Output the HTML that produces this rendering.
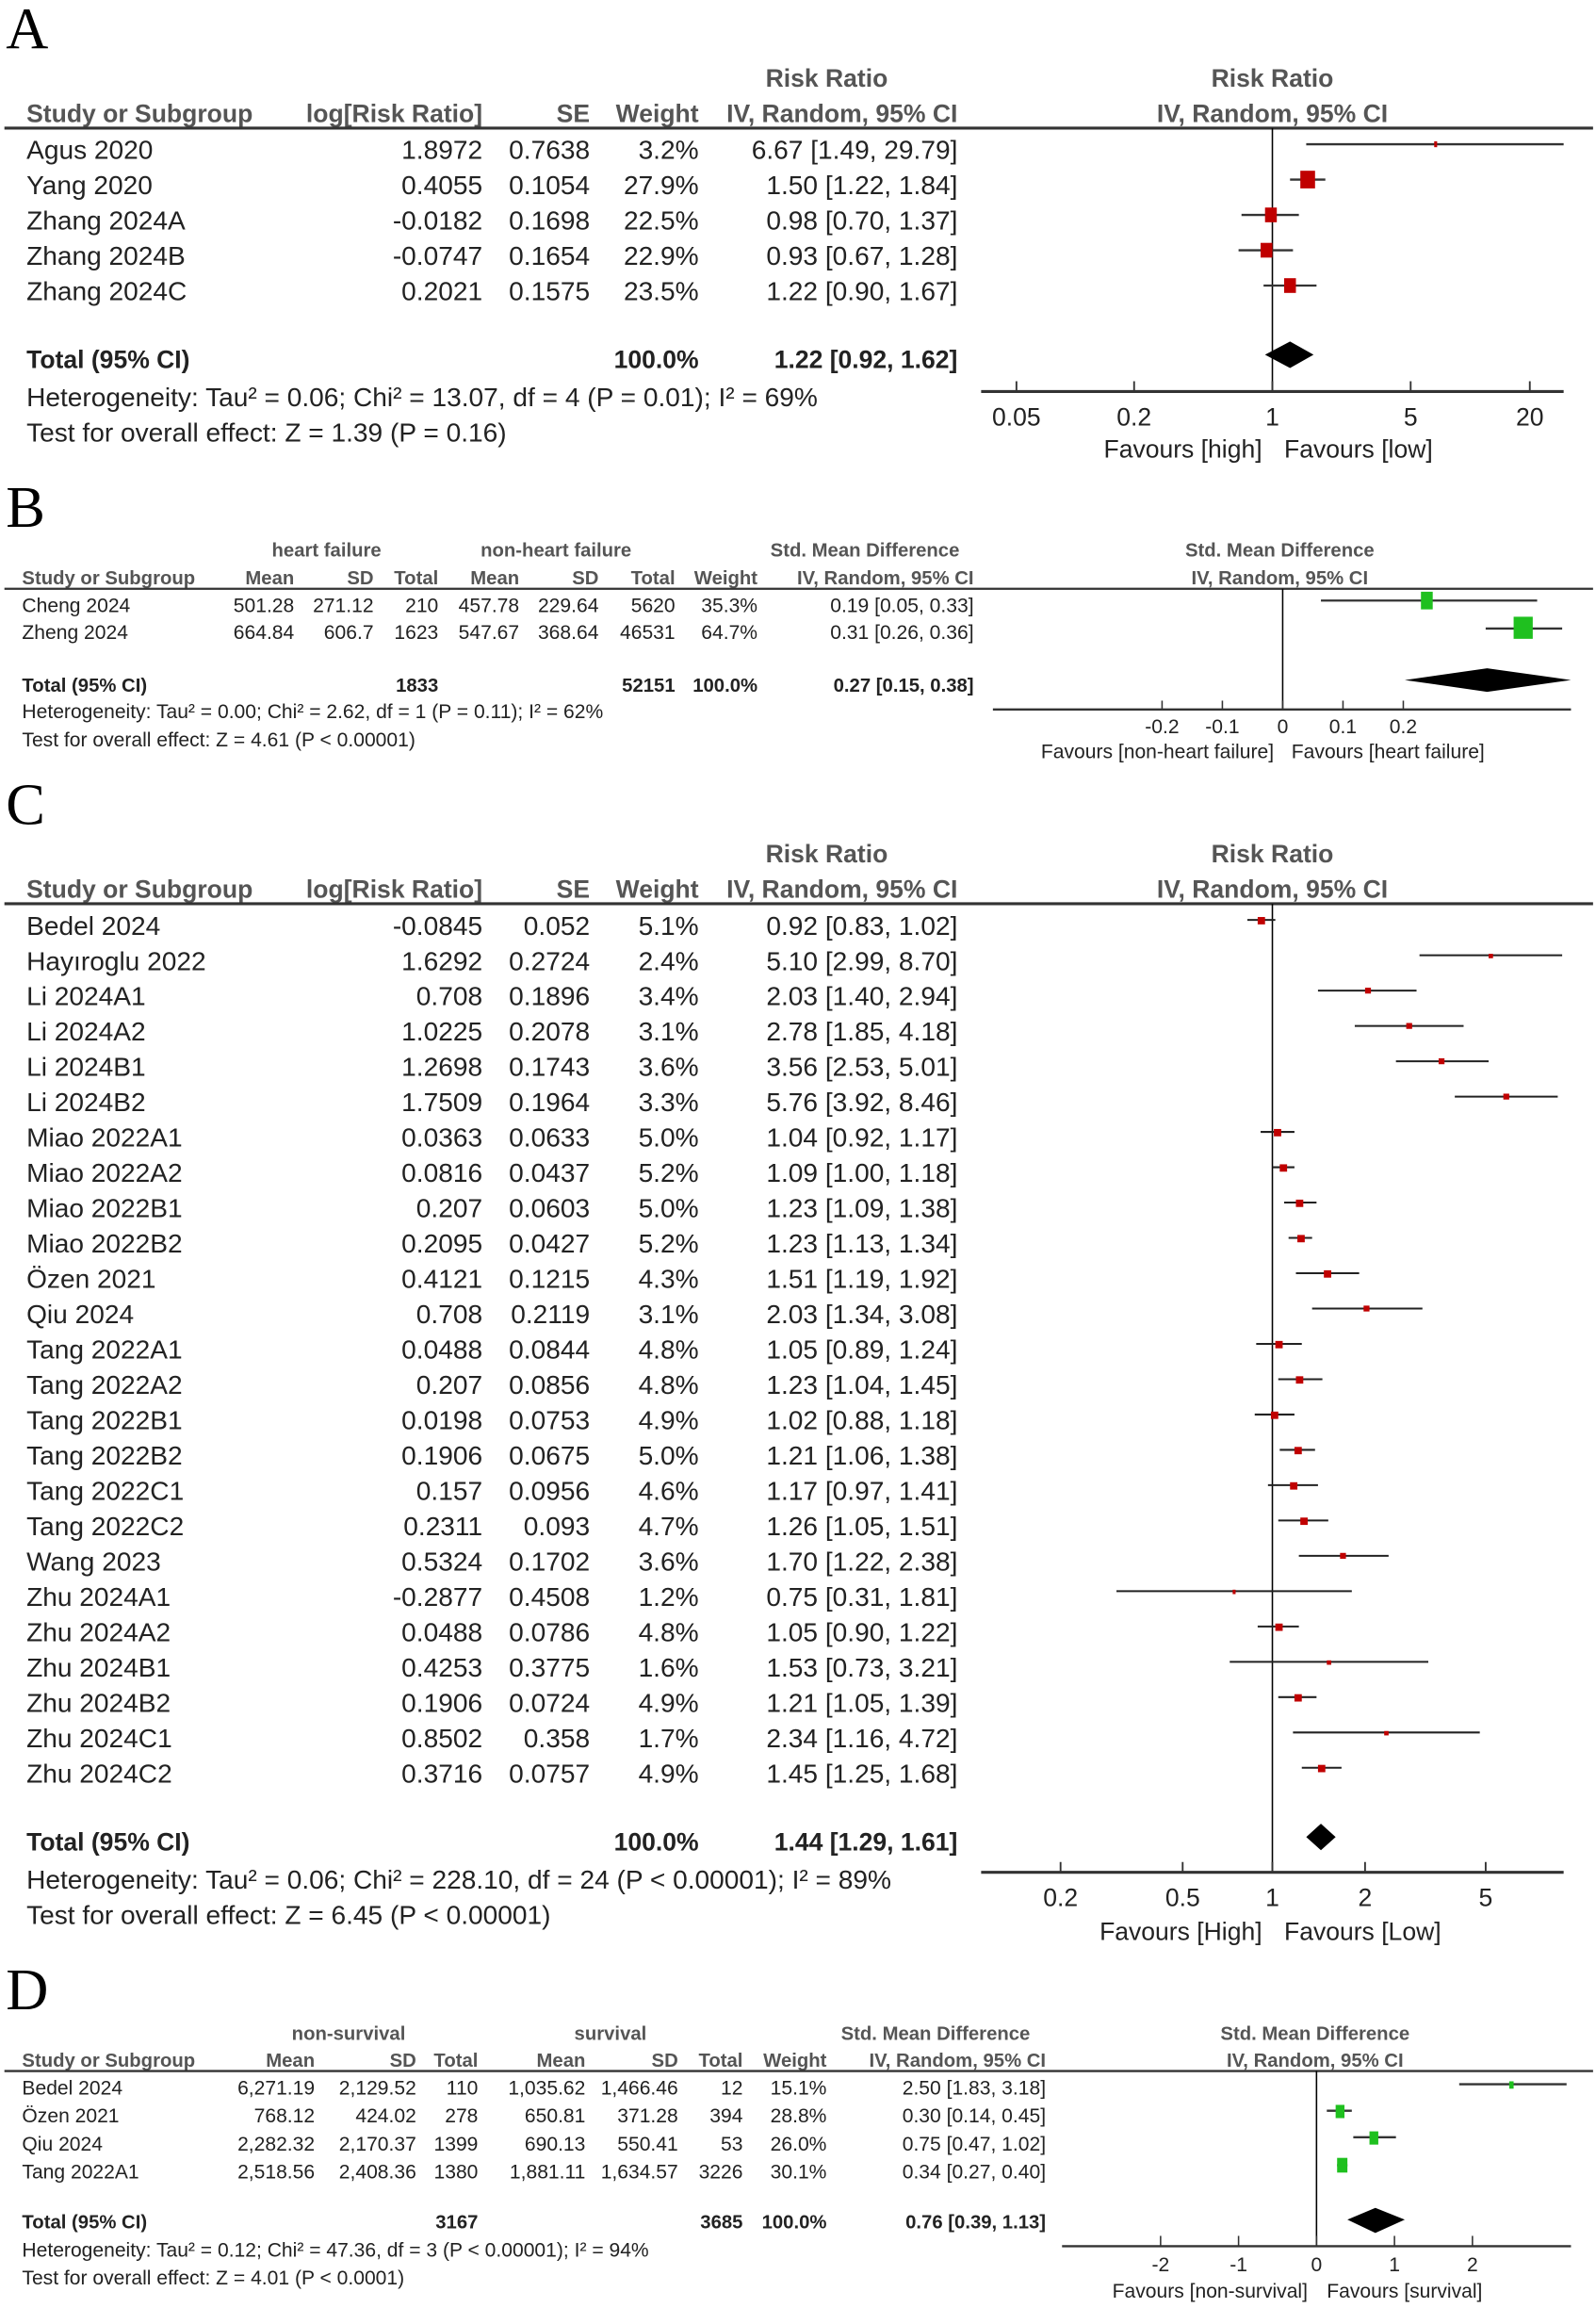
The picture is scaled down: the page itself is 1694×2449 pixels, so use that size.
<!DOCTYPE html>
<html><head><meta charset="utf-8"><style>
html,body{margin:0;padding:0;background:#fff;}
svg{display:block;}
text{font-family:"Liberation Sans",Arial,sans-serif;fill:#222;}
.a{font-size:18px;}
.a .b{font-size:17px;}
.a.g text, .a .g{font-size:17px;}
.s{font-size:13.5px;}
.s .b{font-size:13px;}
.b{font-weight:bold;}
.r{text-anchor:end;}
.m{text-anchor:middle;}
.lab{font-family:"Liberation Serif",serif;font-size:40px;fill:#000;}
.g{fill:#555;}
</style></head><body>
<svg width="1694" height="2449" viewBox="0 0 1085 1568" preserveAspectRatio="none" xmlns="http://www.w3.org/2000/svg">
<rect width="1085" height="1568" fill="#fff"/>
<!-- ===== A ===== -->
<text class="lab" x="4" y="33">A</text>
<g class="a">
<text class="m b g" x="562" y="59">Risk Ratio</text>
<text class="m b g" x="865" y="59">Risk Ratio</text>
<text class="b g" x="18" y="83">Study or Subgroup</text>
<text class="r b g" x="328" y="83">log[Risk Ratio]</text>
<text class="r b g" x="401" y="83">SE</text>
<text class="r b g" x="475" y="83">Weight</text>
<text class="r b g" x="651" y="83">IV, Random, 95% CI</text>
<text class="m b g" x="865" y="83">IV, Random, 95% CI</text>
</g>
<line x1="3" y1="87" x2="1083" y2="87" stroke="#333" stroke-width="2"/>
<g class="a">
<text x="18" y="108">Agus 2020</text><text class="r" x="328" y="108">1.8972</text><text class="r" x="401" y="108">0.7638</text><text class="r" x="475" y="108">3.2%</text><text class="r" x="651" y="108">6.67 [1.49, 29.79]</text>
<text x="18" y="132">Yang 2020</text><text class="r" x="328" y="132">0.4055</text><text class="r" x="401" y="132">0.1054</text><text class="r" x="475" y="132">27.9%</text><text class="r" x="651" y="132">1.50 [1.22, 1.84]</text>
<text x="18" y="156">Zhang 2024A</text><text class="r" x="328" y="156">-0.0182</text><text class="r" x="401" y="156">0.1698</text><text class="r" x="475" y="156">22.5%</text><text class="r" x="651" y="156">0.98 [0.70, 1.37]</text>
<text x="18" y="180">Zhang 2024B</text><text class="r" x="328" y="180">-0.0747</text><text class="r" x="401" y="180">0.1654</text><text class="r" x="475" y="180">22.9%</text><text class="r" x="651" y="180">0.93 [0.67, 1.28]</text>
<text x="18" y="204">Zhang 2024C</text><text class="r" x="328" y="204">0.2021</text><text class="r" x="401" y="204">0.1575</text><text class="r" x="475" y="204">23.5%</text><text class="r" x="651" y="204">1.22 [0.90, 1.67]</text>
<text class="b" x="18" y="250">Total (95% CI)</text><text class="r b" x="475" y="250">100.0%</text><text class="r b" x="651" y="250">1.22 [0.92, 1.62]</text>
<text x="18" y="276">Heterogeneity: Tau² = 0.06; Chi² = 13.07, df = 4 (P = 0.01); I² = 69%</text>
<text x="18" y="300">Test for overall effect: Z = 1.39 (P = 0.16)</text>
</g>
<line x1="865" y1="87" x2="865" y2="266" stroke="#000" stroke-width="1"/>
<g stroke="#333" stroke-width="1.5">
<line x1="888" y1="98" x2="1063" y2="98"/>
<line x1="877" y1="122" x2="901" y2="122"/>
<line x1="844" y1="146" x2="883" y2="146"/>
<line x1="842" y1="170" x2="879" y2="170"/>
<line x1="859" y1="194" x2="895" y2="194"/>
</g>
<g fill="#c00000">
<rect x="975" y="96" width="2" height="4"/>
<rect x="884" y="116" width="10" height="12"/>
<rect x="860" y="141" width="8" height="10"/>
<rect x="857" y="165" width="8" height="10"/>
<rect x="873" y="189" width="8" height="10"/>
</g>
<polygon points="860,241 877,232 893,241 877,250" fill="#000"/>
<line x1="667" y1="266" x2="1063" y2="266" stroke="#333" stroke-width="2"/>
<g stroke="#333" stroke-width="1.2"><line x1="691" y1="259" x2="691" y2="266"/><line x1="771" y1="259" x2="771" y2="266"/><line x1="865" y1="259" x2="865" y2="266"/><line x1="959" y1="259" x2="959" y2="266"/><line x1="1040" y1="259" x2="1040" y2="266"/></g>
<g class="a g">
<text class="m" x="691" y="289">0.05</text><text class="m" x="771" y="289">0.2</text><text class="m" x="865" y="289">1</text><text class="m" x="959" y="289">5</text><text class="m" x="1040" y="289">20</text>
<text class="r" x="858" y="311">Favours [high]</text><text x="873" y="311">Favours [low]</text>
</g>

<!-- ===== B ===== -->
<text class="lab" x="4" y="358">B</text>
<g class="s">
<text class="m b g" x="222" y="378">heart failure</text>
<text class="m b g" x="378" y="378">non-heart failure</text>
<text class="m b g" x="588" y="378">Std. Mean Difference</text>
<text class="m b g" x="870" y="378">Std. Mean Difference</text>
<text class="b g" x="15" y="397">Study or Subgroup</text>
<text class="r b g" x="200" y="397">Mean</text><text class="r b g" x="254" y="397">SD</text><text class="r b g" x="298" y="397">Total</text>
<text class="r b g" x="353" y="397">Mean</text><text class="r b g" x="407" y="397">SD</text><text class="r b g" x="459" y="397">Total</text>
<text class="r b g" x="515" y="397">Weight</text><text class="r b g" x="662" y="397">IV, Random, 95% CI</text>
<text class="m b g" x="870" y="397">IV, Random, 95% CI</text>
</g>
<line x1="3" y1="400" x2="1083" y2="400" stroke="#333" stroke-width="1.5"/>
<g class="s">
<text x="15" y="416">Cheng 2024</text><text class="r" x="200" y="416">501.28</text><text class="r" x="254" y="416">271.12</text><text class="r" x="298" y="416">210</text><text class="r" x="353" y="416">457.78</text><text class="r" x="407" y="416">229.64</text><text class="r" x="459" y="416">5620</text><text class="r" x="515" y="416">35.3%</text><text class="r" x="662" y="416">0.19 [0.05, 0.33]</text>
<text x="15" y="434">Zheng 2024</text><text class="r" x="200" y="434">664.84</text><text class="r" x="254" y="434">606.7</text><text class="r" x="298" y="434">1623</text><text class="r" x="353" y="434">547.67</text><text class="r" x="407" y="434">368.64</text><text class="r" x="459" y="434">46531</text><text class="r" x="515" y="434">64.7%</text><text class="r" x="662" y="434">0.31 [0.26, 0.36]</text>
<text class="b" x="15" y="470">Total (95% CI)</text><text class="r b" x="298" y="470">1833</text><text class="r b" x="459" y="470">52151</text><text class="r b" x="515" y="470">100.0%</text><text class="r b" x="662" y="470">0.27 [0.15, 0.38]</text>
<text x="15" y="488">Heterogeneity: Tau² = 0.00; Chi² = 2.62, df = 1 (P = 0.11); I² = 62%</text>
<text x="15" y="507">Test for overall effect: Z = 4.61 (P &lt; 0.00001)</text>
</g>
<line x1="872" y1="400" x2="872" y2="482" stroke="#000" stroke-width="1"/>
<g stroke="#333" stroke-width="1.5"><line x1="898" y1="408" x2="1045" y2="408"/><line x1="1010" y1="427" x2="1062" y2="427"/></g>
<g fill="#1fc01f"><rect x="966" y="402" width="8" height="12"/><rect x="1029" y="419" width="13" height="15"/></g>
<polygon points="955,462 1011,454 1068,462 1011,470" fill="#000"/>
<line x1="675" y1="482" x2="1068" y2="482" stroke="#333" stroke-width="1.5"/>
<g stroke="#333" stroke-width="1"><line x1="790" y1="476" x2="790" y2="482"/><line x1="831" y1="476" x2="831" y2="482"/><line x1="872" y1="476" x2="872" y2="482"/><line x1="913" y1="476" x2="913" y2="482"/><line x1="954" y1="476" x2="954" y2="482"/></g>
<g class="s g">
<text class="m" x="790" y="498">-0.2</text><text class="m" x="831" y="498">-0.1</text><text class="m" x="872" y="498">0</text><text class="m" x="913" y="498">0.1</text><text class="m" x="954" y="498">0.2</text>
<text class="r" x="866" y="515">Favours [non-heart failure]</text><text x="878" y="515">Favours [heart failure]</text>
</g>

<!-- ===== C ===== -->
<text class="lab" x="4" y="560">C</text>
<g class="a">
<text class="m b g" x="562" y="586">Risk Ratio</text>
<text class="m b g" x="865" y="586">Risk Ratio</text>
<text class="b g" x="18" y="610">Study or Subgroup</text>
<text class="r b g" x="328" y="610">log[Risk Ratio]</text>
<text class="r b g" x="401" y="610">SE</text>
<text class="r b g" x="475" y="610">Weight</text>
<text class="r b g" x="651" y="610">IV, Random, 95% CI</text>
<text class="m b g" x="865" y="610">IV, Random, 95% CI</text>
</g>
<line x1="3" y1="614" x2="1083" y2="614" stroke="#333" stroke-width="2"/>
<g class="a">
<text x="18" y="635">Bedel 2024</text><text class="r" x="328" y="635">-0.0845</text><text class="r" x="401" y="635">0.052</text><text class="r" x="475" y="635">5.1%</text><text class="r" x="651" y="635">0.92 [0.83, 1.02]</text>
<text x="18" y="659">Hayıroglu 2022</text><text class="r" x="328" y="659">1.6292</text><text class="r" x="401" y="659">0.2724</text><text class="r" x="475" y="659">2.4%</text><text class="r" x="651" y="659">5.10 [2.99, 8.70]</text>
<text x="18" y="683">Li  2024A1</text><text class="r" x="328" y="683">0.708</text><text class="r" x="401" y="683">0.1896</text><text class="r" x="475" y="683">3.4%</text><text class="r" x="651" y="683">2.03 [1.40, 2.94]</text>
<text x="18" y="707">Li  2024A2</text><text class="r" x="328" y="707">1.0225</text><text class="r" x="401" y="707">0.2078</text><text class="r" x="475" y="707">3.1%</text><text class="r" x="651" y="707">2.78 [1.85, 4.18]</text>
<text x="18" y="731">Li  2024B1</text><text class="r" x="328" y="731">1.2698</text><text class="r" x="401" y="731">0.1743</text><text class="r" x="475" y="731">3.6%</text><text class="r" x="651" y="731">3.56 [2.53, 5.01]</text>
<text x="18" y="755">Li  2024B2</text><text class="r" x="328" y="755">1.7509</text><text class="r" x="401" y="755">0.1964</text><text class="r" x="475" y="755">3.3%</text><text class="r" x="651" y="755">5.76 [3.92, 8.46]</text>
<text x="18" y="779">Miao 2022A1</text><text class="r" x="328" y="779">0.0363</text><text class="r" x="401" y="779">0.0633</text><text class="r" x="475" y="779">5.0%</text><text class="r" x="651" y="779">1.04 [0.92, 1.17]</text>
<text x="18" y="803">Miao 2022A2</text><text class="r" x="328" y="803">0.0816</text><text class="r" x="401" y="803">0.0437</text><text class="r" x="475" y="803">5.2%</text><text class="r" x="651" y="803">1.09 [1.00, 1.18]</text>
<text x="18" y="827">Miao 2022B1</text><text class="r" x="328" y="827">0.207</text><text class="r" x="401" y="827">0.0603</text><text class="r" x="475" y="827">5.0%</text><text class="r" x="651" y="827">1.23 [1.09, 1.38]</text>
<text x="18" y="851">Miao 2022B2</text><text class="r" x="328" y="851">0.2095</text><text class="r" x="401" y="851">0.0427</text><text class="r" x="475" y="851">5.2%</text><text class="r" x="651" y="851">1.23 [1.13, 1.34]</text>
<text x="18" y="875">Özen 2021</text><text class="r" x="328" y="875">0.4121</text><text class="r" x="401" y="875">0.1215</text><text class="r" x="475" y="875">4.3%</text><text class="r" x="651" y="875">1.51 [1.19, 1.92]</text>
<text x="18" y="899">Qiu 2024</text><text class="r" x="328" y="899">0.708</text><text class="r" x="401" y="899">0.2119</text><text class="r" x="475" y="899">3.1%</text><text class="r" x="651" y="899">2.03 [1.34, 3.08]</text>
<text x="18" y="923">Tang 2022A1</text><text class="r" x="328" y="923">0.0488</text><text class="r" x="401" y="923">0.0844</text><text class="r" x="475" y="923">4.8%</text><text class="r" x="651" y="923">1.05 [0.89, 1.24]</text>
<text x="18" y="947">Tang 2022A2</text><text class="r" x="328" y="947">0.207</text><text class="r" x="401" y="947">0.0856</text><text class="r" x="475" y="947">4.8%</text><text class="r" x="651" y="947">1.23 [1.04, 1.45]</text>
<text x="18" y="971">Tang 2022B1</text><text class="r" x="328" y="971">0.0198</text><text class="r" x="401" y="971">0.0753</text><text class="r" x="475" y="971">4.9%</text><text class="r" x="651" y="971">1.02 [0.88, 1.18]</text>
<text x="18" y="995">Tang 2022B2</text><text class="r" x="328" y="995">0.1906</text><text class="r" x="401" y="995">0.0675</text><text class="r" x="475" y="995">5.0%</text><text class="r" x="651" y="995">1.21 [1.06, 1.38]</text>
<text x="18" y="1019">Tang 2022C1</text><text class="r" x="328" y="1019">0.157</text><text class="r" x="401" y="1019">0.0956</text><text class="r" x="475" y="1019">4.6%</text><text class="r" x="651" y="1019">1.17 [0.97, 1.41]</text>
<text x="18" y="1043">Tang 2022C2</text><text class="r" x="328" y="1043">0.2311</text><text class="r" x="401" y="1043">0.093</text><text class="r" x="475" y="1043">4.7%</text><text class="r" x="651" y="1043">1.26 [1.05, 1.51]</text>
<text x="18" y="1067">Wang 2023</text><text class="r" x="328" y="1067">0.5324</text><text class="r" x="401" y="1067">0.1702</text><text class="r" x="475" y="1067">3.6%</text><text class="r" x="651" y="1067">1.70 [1.22, 2.38]</text>
<text x="18" y="1091">Zhu 2024A1</text><text class="r" x="328" y="1091">-0.2877</text><text class="r" x="401" y="1091">0.4508</text><text class="r" x="475" y="1091">1.2%</text><text class="r" x="651" y="1091">0.75 [0.31, 1.81]</text>
<text x="18" y="1115">Zhu 2024A2</text><text class="r" x="328" y="1115">0.0488</text><text class="r" x="401" y="1115">0.0786</text><text class="r" x="475" y="1115">4.8%</text><text class="r" x="651" y="1115">1.05 [0.90, 1.22]</text>
<text x="18" y="1139">Zhu 2024B1</text><text class="r" x="328" y="1139">0.4253</text><text class="r" x="401" y="1139">0.3775</text><text class="r" x="475" y="1139">1.6%</text><text class="r" x="651" y="1139">1.53 [0.73, 3.21]</text>
<text x="18" y="1163">Zhu 2024B2</text><text class="r" x="328" y="1163">0.1906</text><text class="r" x="401" y="1163">0.0724</text><text class="r" x="475" y="1163">4.9%</text><text class="r" x="651" y="1163">1.21 [1.05, 1.39]</text>
<text x="18" y="1187">Zhu 2024C1</text><text class="r" x="328" y="1187">0.8502</text><text class="r" x="401" y="1187">0.358</text><text class="r" x="475" y="1187">1.7%</text><text class="r" x="651" y="1187">2.34 [1.16, 4.72]</text>
<text x="18" y="1211">Zhu 2024C2</text><text class="r" x="328" y="1211">0.3716</text><text class="r" x="401" y="1211">0.0757</text><text class="r" x="475" y="1211">4.9%</text><text class="r" x="651" y="1211">1.45 [1.25, 1.68]</text>
<text class="b" x="18" y="1257">Total (95% CI)</text><text class="r b" x="475" y="1257">100.0%</text><text class="r b" x="651" y="1257">1.44 [1.29, 1.61]</text>
<text x="18" y="1283">Heterogeneity: Tau² = 0.06; Chi² = 228.10, df = 24 (P &lt; 0.00001); I² = 89%</text>
<text x="18" y="1307">Test for overall effect: Z = 6.45 (P &lt; 0.00001)</text>
</g>
<line x1="865" y1="614" x2="865" y2="1272" stroke="#000" stroke-width="1"/>
<g stroke="#222" stroke-width="1.3">
<line x1="848" y1="625" x2="867" y2="625"/>
<line x1="965" y1="649" x2="1062" y2="649"/>
<line x1="896" y1="673" x2="963" y2="673"/>
<line x1="921" y1="697" x2="995" y2="697"/>
<line x1="949" y1="721" x2="1012" y2="721"/>
<line x1="989" y1="745" x2="1059" y2="745"/>
<line x1="857" y1="769" x2="880" y2="769"/>
<line x1="865" y1="793" x2="880" y2="793"/>
<line x1="873" y1="817" x2="895" y2="817"/>
<line x1="876" y1="841" x2="892" y2="841"/>
<line x1="881" y1="865" x2="924" y2="865"/>
<line x1="892" y1="889" x2="967" y2="889"/>
<line x1="854" y1="913" x2="885" y2="913"/>
<line x1="869" y1="937" x2="899" y2="937"/>
<line x1="853" y1="961" x2="880" y2="961"/>
<line x1="870" y1="985" x2="894" y2="985"/>
<line x1="862" y1="1009" x2="896" y2="1009"/>
<line x1="869" y1="1033" x2="903" y2="1033"/>
<line x1="883" y1="1057" x2="944" y2="1057"/>
<line x1="759" y1="1081" x2="919" y2="1081"/>
<line x1="855" y1="1105" x2="883" y2="1105"/>
<line x1="836" y1="1129" x2="971" y2="1129"/>
<line x1="869" y1="1153" x2="895" y2="1153"/>
<line x1="879" y1="1177" x2="1006" y2="1177"/>
<line x1="885" y1="1201" x2="912" y2="1201"/>
</g>
<g fill="#c00000">
<rect x="855" y="623" width="5" height="5"/>
<rect x="1012" y="648" width="3" height="3"/>
<rect x="928" y="671" width="4" height="4"/>
<rect x="956" y="695" width="4" height="4"/>
<rect x="978" y="719" width="4" height="4"/>
<rect x="1022" y="743" width="4" height="4"/>
<rect x="866" y="767" width="5" height="5"/>
<rect x="870" y="791" width="5" height="5"/>
<rect x="881" y="815" width="5" height="5"/>
<rect x="882" y="839" width="5" height="5"/>
<rect x="900" y="863" width="5" height="5"/>
<rect x="927" y="887" width="4" height="4"/>
<rect x="867" y="911" width="5" height="5"/>
<rect x="881" y="935" width="5" height="5"/>
<rect x="864" y="959" width="5" height="5"/>
<rect x="880" y="983" width="5" height="5"/>
<rect x="877" y="1007" width="5" height="5"/>
<rect x="884" y="1031" width="5" height="5"/>
<rect x="911" y="1055" width="4" height="4"/>
<rect x="838" y="1080" width="2" height="3"/>
<rect x="867" y="1103" width="5" height="5"/>
<rect x="902" y="1128" width="3" height="3"/>
<rect x="880" y="1151" width="5" height="5"/>
<rect x="941" y="1176" width="3" height="3"/>
<rect x="896" y="1199" width="5" height="5"/>
</g>
<polygon points="888,1248 898,1239 908,1248 898,1257" fill="#000"/>
<line x1="667" y1="1272" x2="1063" y2="1272" stroke="#333" stroke-width="2"/>
<g stroke="#333" stroke-width="1.2"><line x1="721" y1="1265" x2="721" y2="1272"/><line x1="804" y1="1265" x2="804" y2="1272"/><line x1="865" y1="1265" x2="865" y2="1272"/><line x1="928" y1="1265" x2="928" y2="1272"/><line x1="1010" y1="1265" x2="1010" y2="1272"/></g>
<g class="a g">
<text class="m" x="721" y="1295">0.2</text><text class="m" x="804" y="1295">0.5</text><text class="m" x="865" y="1295">1</text><text class="m" x="928" y="1295">2</text><text class="m" x="1010" y="1295">5</text>
<text class="r" x="858" y="1318">Favours [High]</text><text x="873" y="1318">Favours [Low]</text>
</g>

<!-- ===== D ===== -->
<text class="lab" x="4" y="1365">D</text>
<g class="s">
<text class="m b g" x="237" y="1386">non-survival</text>
<text class="m b g" x="415" y="1386">survival</text>
<text class="m b g" x="636" y="1386">Std. Mean Difference</text>
<text class="m b g" x="894" y="1386">Std. Mean Difference</text>
<text class="b g" x="15" y="1404">Study or Subgroup</text>
<text class="r b g" x="214" y="1404">Mean</text><text class="r b g" x="283" y="1404">SD</text><text class="r b g" x="325" y="1404">Total</text>
<text class="r b g" x="398" y="1404">Mean</text><text class="r b g" x="461" y="1404">SD</text><text class="r b g" x="505" y="1404">Total</text>
<text class="r b g" x="562" y="1404">Weight</text><text class="r b g" x="711" y="1404">IV, Random, 95% CI</text>
<text class="m b g" x="894" y="1404">IV, Random, 95% CI</text>
</g>
<line x1="3" y1="1407" x2="1083" y2="1407" stroke="#333" stroke-width="1.5"/>
<g class="s">
<text x="15" y="1423">Bedel 2024</text><text class="r" x="214" y="1423">6,271.19</text><text class="r" x="283" y="1423">2,129.52</text><text class="r" x="325" y="1423">110</text><text class="r" x="398" y="1423">1,035.62</text><text class="r" x="461" y="1423">1,466.46</text><text class="r" x="505" y="1423">12</text><text class="r" x="562" y="1423">15.1%</text><text class="r" x="711" y="1423">2.50 [1.83, 3.18]</text>
<text x="15" y="1442">Özen 2021</text><text class="r" x="214" y="1442">768.12</text><text class="r" x="283" y="1442">424.02</text><text class="r" x="325" y="1442">278</text><text class="r" x="398" y="1442">650.81</text><text class="r" x="461" y="1442">371.28</text><text class="r" x="505" y="1442">394</text><text class="r" x="562" y="1442">28.8%</text><text class="r" x="711" y="1442">0.30 [0.14, 0.45]</text>
<text x="15" y="1461">Qiu 2024</text><text class="r" x="214" y="1461">2,282.32</text><text class="r" x="283" y="1461">2,170.37</text><text class="r" x="325" y="1461">1399</text><text class="r" x="398" y="1461">690.13</text><text class="r" x="461" y="1461">550.41</text><text class="r" x="505" y="1461">53</text><text class="r" x="562" y="1461">26.0%</text><text class="r" x="711" y="1461">0.75 [0.47, 1.02]</text>
<text x="15" y="1480">Tang 2022A1</text><text class="r" x="214" y="1480">2,518.56</text><text class="r" x="283" y="1480">2,408.36</text><text class="r" x="325" y="1480">1380</text><text class="r" x="398" y="1480">1,881.11</text><text class="r" x="461" y="1480">1,634.57</text><text class="r" x="505" y="1480">3226</text><text class="r" x="562" y="1480">30.1%</text><text class="r" x="711" y="1480">0.34 [0.27, 0.40]</text>
<text class="b" x="15" y="1514">Total (95% CI)</text><text class="r b" x="325" y="1514">3167</text><text class="r b" x="505" y="1514">3685</text><text class="r b" x="562" y="1514">100.0%</text><text class="r b" x="711" y="1514">0.76 [0.39, 1.13]</text>
<text x="15" y="1533">Heterogeneity: Tau² = 0.12; Chi² = 47.36, df = 3 (P &lt; 0.00001); I² = 94%</text>
<text x="15" y="1552">Test for overall effect: Z = 4.01 (P &lt; 0.0001)</text>
</g>
<line x1="895" y1="1407" x2="895" y2="1526" stroke="#000" stroke-width="1"/>
<g stroke="#333" stroke-width="1.5">
<line x1="992" y1="1416" x2="1065" y2="1416"/>
<line x1="902" y1="1434" x2="919" y2="1434"/>
<line x1="920" y1="1452" x2="949" y2="1452"/>
<line x1="909" y1="1471" x2="916" y2="1471"/>
</g>
<g fill="#1fc01f">
<rect x="1026" y="1414" width="3" height="5"/>
<rect x="908" y="1430" width="6" height="9"/>
<rect x="931" y="1448" width="6" height="9"/>
<rect x="909" y="1466" width="7" height="10"/>
</g>
<polygon points="916,1508 935,1500 955,1508 935,1517" fill="#000"/>
<line x1="722" y1="1526" x2="1068" y2="1526" stroke="#333" stroke-width="1.5"/>
<g stroke="#333" stroke-width="1"><line x1="789" y1="1519" x2="789" y2="1526"/><line x1="842" y1="1519" x2="842" y2="1526"/><line x1="895" y1="1519" x2="895" y2="1526"/><line x1="948" y1="1519" x2="948" y2="1526"/><line x1="1001" y1="1519" x2="1001" y2="1526"/></g>
<g class="s g">
<text class="m" x="789" y="1543">-2</text><text class="m" x="842" y="1543">-1</text><text class="m" x="895" y="1543">0</text><text class="m" x="948" y="1543">1</text><text class="m" x="1001" y="1543">2</text>
<text class="r" x="889" y="1561">Favours [non-survival]</text><text x="902" y="1561">Favours [survival]</text>
</g>
</svg>
</body></html>
